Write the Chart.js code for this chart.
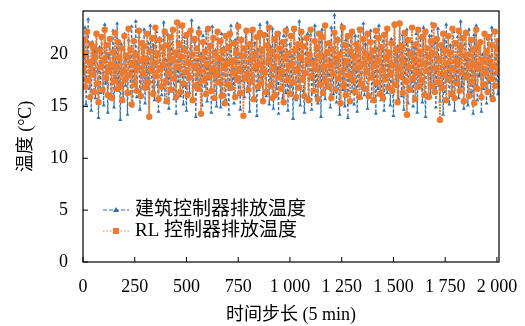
<!DOCTYPE html>
<html>
<head>
<meta charset="utf-8">
<script src="https://cdn.jsdelivr.net/npm/chart.js@4"></script>
<style>
  html, body { margin: 0; padding: 0; background: #fff; }
  #wrap { width: 525px; height: 326px; position: relative; }
</style>
</head>
<body>
<div id="wrap"><canvas id="myLineChart" width="525" height="326"></canvas></div>
<script>
// 时间步长 (每 5 步取一点)
var xStep = 5;
var xTickLabels = ["0", "250", "500", "750", "1 000", "1 250", "1 500", "1 750", "2 000"];
var yTickLabels = ["0", "5", "10", "15", "20"];
var seriesNames = ["建筑控制器排放温度", "RL 控制器排放温度"];

// 建筑控制器
var building = [
  20.8, 17.5, 22.6, 15.2, 19.4, 23.4, 16.7, 18.9, 14.6, 21.2, 17.9, 20.3, 15.8, 22.1, 18.4, 13.9, 20.7, 16.3, 21.8, 19.0,
  15.1, 22.9, 17.2, 20.1, 14.4, 19.8, 21.5, 16.0, 18.6, 22.3, 14.9, 20.4, 17.7, 23.0, 16.5, 19.3, 13.7, 21.0, 18.2, 15.5,
  22.0, 17.0, 19.6, 14.2, 21.4, 18.8, 16.2, 22.7, 15.0, 20.0, 17.6, 23.2, 15.9, 19.1, 21.7, 14.7, 18.0, 20.6, 16.8, 22.4,
  15.3, 19.7, 17.3, 21.1, 14.1, 22.8, 18.5, 16.4, 20.9, 15.6, 19.2, 22.2, 17.1, 14.5, 21.6, 18.7, 16.1, 20.2, 23.1, 15.4,
  19.5, 17.8, 21.9, 14.8, 20.5, 16.6, 22.5, 18.3, 15.7, 19.9, 14.3, 21.3, 17.4, 22.9, 16.0, 20.8, 18.1, 15.2, 21.7, 17.0,
  14.6, 22.1, 19.0, 16.3, 20.6, 23.3, 15.8, 18.9, 21.2, 14.0, 19.4, 17.2, 22.6, 16.7, 20.1, 15.1, 21.8, 18.4, 16.9, 22.3,
  15.5, 19.6, 17.6, 21.0, 14.4, 22.7, 18.2, 16.5, 20.4, 15.0, 21.5, 17.9, 19.3, 14.9, 22.0, 16.2, 20.7, 18.6, 15.6, 21.9,
  17.1, 14.2, 20.3, 22.8, 16.8, 19.1, 15.3, 21.4, 18.0, 23.0, 16.1, 20.0, 14.7, 21.6, 17.5, 19.8, 15.9, 22.4, 18.8, 16.4,
  20.9, 14.5, 19.5, 22.2, 17.3, 15.7, 21.1, 18.5, 14.1, 20.5, 16.6, 22.9, 17.8, 19.2, 15.4, 21.7, 18.3, 16.0, 23.1, 19.7,
  15.2, 20.8, 17.0, 22.5, 14.8, 19.0, 21.3, 16.7, 18.7, 14.3, 22.1, 17.7, 20.2, 15.8, 21.8, 18.1, 16.3, 22.6, 14.6, 19.4,
  21.0, 16.9, 19.9, 13.8, 22.3, 18.4, 15.6, 20.6, 17.4, 23.2, 15.1, 19.3, 21.5, 16.5, 14.4, 20.1, 18.9, 22.0, 15.9, 17.8,
  21.9, 14.7, 19.6, 17.2, 22.8, 16.0, 20.4, 15.3, 18.6, 21.2, 14.0, 22.4, 17.6, 19.8, 15.7, 21.1, 18.2, 16.8, 20.7, 14.9,
  22.6, 18.0, 16.2, 23.8, 19.1, 15.4, 21.6, 17.1, 14.2, 20.3, 22.9, 16.6, 19.5, 15.0, 21.4, 18.8, 13.9, 20.9, 17.5, 22.2,
  16.4, 19.7, 15.2, 21.8, 18.3, 14.5, 22.5, 17.0, 20.5, 15.8, 19.2, 23.0, 16.1, 21.0, 18.6, 14.8, 20.0, 17.7, 22.3, 15.5,
  19.9, 17.3, 21.7, 14.3, 20.6, 16.7, 22.8, 18.4, 15.6, 19.0, 21.3, 14.6, 17.9, 22.1, 16.3, 20.2, 18.9, 15.1, 21.5, 17.4,
  14.1, 22.7, 19.3, 16.9, 20.8, 15.7, 23.1, 18.1, 16.0, 21.9, 14.7, 19.6, 17.6, 22.4, 15.3, 20.4, 18.5, 16.5, 21.2, 15.0,
  20.7, 17.2, 22.0, 14.4, 19.4, 16.8, 21.6, 18.2, 15.4, 22.6, 17.8, 14.0, 20.1, 19.1, 16.2, 21.8, 15.9, 23.0, 18.7, 16.6,
  21.1, 14.9, 19.8, 22.5, 17.0, 15.5, 20.5, 18.3, 14.2, 21.4, 16.4, 22.9, 17.5, 19.2, 15.2, 20.9, 18.0, 16.1, 22.2, 14.6,
  19.7, 17.4, 21.7, 15.8, 20.3, 23.2, 16.9, 18.6, 14.8, 21.0, 17.7, 19.5, 15.1, 22.4, 18.9, 16.3, 20.6, 14.3, 21.9, 17.1,
  22.8, 15.6, 19.0, 17.9, 21.3, 14.5, 20.0, 16.7, 22.1, 18.4, 15.3, 21.5, 17.3, 19.8, 16.0, 22.6, 18.1, 15.7, 20.8, 17.6,
  21.4, 16.2, 19.3
];

// RL 控制器
var rl = [
  18.6, 21.4, 16.9, 20.1, 22.2, 17.5, 19.3, 15.9, 21.0, 18.1, 20.7, 16.4, 19.8, 22.0, 17.2, 15.4, 20.4, 18.8, 21.7, 16.6,
  19.5, 22.4, 17.8, 20.9, 16.1, 18.4, 21.5, 19.0, 15.8, 20.2, 17.4, 22.1, 18.9, 16.7, 21.2, 19.7, 17.0, 20.6, 15.6, 18.3,
  21.8, 17.6, 19.9, 16.3, 22.5, 18.0, 20.5, 15.2, 19.1, 21.3, 17.1, 20.0, 16.5, 18.7, 22.3, 19.4, 16.0, 21.1, 18.2, 20.8,
  16.8, 19.6, 22.0, 17.3, 14.0, 20.3, 18.5, 21.6, 16.2, 19.2, 22.6, 17.9, 20.1, 15.7, 21.4, 18.6, 16.9, 20.7, 19.0, 22.2,
  17.4, 15.5, 20.9, 18.1, 21.7, 16.6, 19.5, 22.4, 17.7, 20.2, 15.9, 23.1, 18.8, 21.0, 16.4, 19.8, 22.8, 17.2, 20.5, 18.3,
  21.9, 16.1, 19.3, 17.8, 22.3, 20.0, 15.6, 18.9, 21.5, 17.0, 20.6, 16.7, 22.1, 18.4, 14.3, 19.7, 21.2, 17.5, 20.3, 16.2,
  19.1, 22.5, 17.9, 20.8, 16.5, 18.6, 21.6, 15.8, 20.1, 18.0, 22.2, 17.3, 19.6, 21.3, 16.0, 20.4, 18.7, 15.3, 21.8, 19.2,
  17.1, 20.7, 22.0, 16.8, 19.4, 18.2, 21.1, 15.9, 20.2, 17.6, 22.7, 18.5, 16.3, 21.4, 19.9, 14.1, 20.6, 17.7, 22.3, 18.1,
  16.6, 21.0, 19.5, 17.4, 22.4, 15.7, 20.0, 18.8, 21.7, 16.9, 19.0, 22.1, 17.2, 20.5, 15.5, 21.9, 18.3, 16.4, 20.9, 19.3,
  22.6, 17.0, 20.3, 15.8, 18.7, 21.5, 16.1, 19.8, 22.0, 17.8, 20.6, 16.7, 18.4, 21.2, 15.4, 19.6, 22.3, 17.5, 20.1, 18.9,
  16.2, 21.8, 19.1, 17.3, 22.5, 20.4, 15.9, 18.5, 21.0, 16.8, 19.7, 22.2, 17.6, 20.8, 16.0, 18.2, 21.6, 19.4, 15.6, 20.0,
  22.4, 17.9, 19.2, 16.5, 21.3, 18.6, 20.7, 15.7, 22.0, 17.1, 19.9, 21.7, 16.3, 18.8, 22.8, 17.4, 20.2, 16.9, 21.1, 19.0,
  15.8, 20.5, 18.1, 22.1, 16.6, 19.5, 21.4, 17.7, 20.0, 15.3, 18.4, 22.6, 17.0, 20.9, 16.1, 19.3, 21.8, 18.0, 15.5, 20.3,
  22.2, 17.5, 19.8, 16.4, 21.0, 18.7, 20.6, 15.9, 22.4, 17.2, 19.1, 21.5, 16.7, 20.1, 18.3, 22.0, 16.0, 19.6, 21.2, 17.8,
  20.4, 15.6, 18.9, 22.3, 17.3, 19.4, 21.6, 16.2, 20.7, 18.5, 15.8, 21.9, 17.6, 19.7, 22.5, 16.8, 20.2, 18.1, 21.1, 16.5,
  19.0, 22.9, 17.1, 20.5, 15.4, 18.6, 23.0, 17.9, 20.8, 16.3, 19.3, 22.1, 17.4, 14.2, 21.4, 18.8, 16.6, 20.0, 22.6, 17.7,
  19.5, 15.7, 21.0, 18.2, 22.4, 16.9, 20.3, 17.5, 21.7, 19.1, 16.1, 22.2, 18.4, 20.6, 15.9, 19.8, 21.3, 17.0, 20.1, 22.8,
  16.4, 18.7, 21.5, 17.3, 19.6, 13.7, 20.9, 16.8, 22.0, 18.0, 20.4, 15.6, 19.2, 21.8, 17.6, 20.2, 16.2, 22.5, 18.5, 15.8,
  21.1, 19.4, 17.2, 22.3, 16.5, 20.7, 18.3, 21.6, 15.5, 19.9, 22.1, 17.8, 20.0, 16.0, 18.9, 21.4, 17.4, 20.5, 15.3, 19.0,
  22.4, 16.7, 20.8, 18.6, 21.2, 15.9, 19.5, 17.1, 22.0, 18.2, 20.3, 16.4, 21.7, 19.3, 17.7, 20.9, 15.7, 18.8, 22.2, 17.0,
  20.6, 18.4, 21.3
];

var blue = "#2f72b3";
var orange = "#ee7a30";
var serif = "'Liberation Serif', 'Noto Sans CJK SC', serif";

function toPoints(arr) {
  var pts = [];
  arr.forEach(function (v, i) {
    pts.push({ x: i * xStep, y: v });
  });
  return pts;
}

// 去掉刻度标签自动留白，固定绘图区
function noPad(scale) {
  scale.paddingTop = 0;
  scale.paddingBottom = 0;
  scale.paddingLeft = 0;
  scale.paddingRight = 0;
}

// 边框、内向刻度、图例
const framePlugin = {
  id: "frame",
  afterDraw: function (chart) {
    const ctx = chart.ctx;
    const a = chart.chartArea;
    const xs = chart.scales.x;
    const ys = chart.scales.y;
    ctx.save();
    ctx.strokeStyle = "#000";
    ctx.lineWidth = 1.2;
    ctx.strokeRect(a.left, a.top, a.right - a.left, a.bottom - a.top);
    ctx.lineWidth = 1;
    for (var i = 0; i < xTickLabels.length; i++) {
      var px = xs.getPixelForValue(i * 250);
      ctx.beginPath();
      ctx.moveTo(px, a.bottom);
      ctx.lineTo(px, a.bottom - 5);
      ctx.stroke();
    }
    for (var j = 0; j < yTickLabels.length; j++) {
      var py = ys.getPixelForValue(j * 5);
      ctx.beginPath();
      ctx.moveTo(a.left, py);
      ctx.lineTo(a.left + 5, py);
      ctx.stroke();
    }
    // 图例
    var lx = a.left + 20;
    var rows = [a.top + 199, a.top + 220];
    var styles = [
      { color: blue, dash: [4, 2], marker: "triangle" },
      { color: orange, dash: [1.5, 2], marker: "square" },
    ];
    for (var k = 0; k < 2; k++) {
      var y = rows[k];
      var s = styles[k];
      ctx.strokeStyle = s.color;
      ctx.fillStyle = s.color;
      ctx.lineWidth = 1.2;
      ctx.setLineDash(s.dash);
      ctx.beginPath();
      ctx.moveTo(lx, y);
      ctx.lineTo(lx + 26, y);
      ctx.stroke();
      ctx.setLineDash([]);
      var mx = lx + 13;
      if (s.marker === "triangle") {
        ctx.beginPath();
        ctx.moveTo(mx, y - 3);
        ctx.lineTo(mx + 3, y + 2);
        ctx.lineTo(mx - 3, y + 2);
        ctx.closePath();
        ctx.fill();
      } else {
        ctx.fillRect(mx - 3, y - 3, 6, 6);
      }
      ctx.fillStyle = "#000";
      ctx.font = "19px " + serif;
      ctx.textBaseline = "middle";
      ctx.textAlign = "left";
      ctx.fillText(seriesNames[k], lx + 32, y);
    }
    ctx.restore();
  },
};

const ctx = document.getElementById("myLineChart").getContext("2d");
const myChart = new Chart(ctx, {
  type: "line",
  data: {
    datasets: [
      {
        label: seriesNames[0],
        data: toPoints(building),
        order: 2,
        borderColor: blue,
        backgroundColor: blue,
        borderWidth: 1.2,
        borderDash: [3, 2],
        pointStyle: "triangle",
        pointRadius: 2.3,
        pointBorderWidth: 0,
        fill: false,
      },
      {
        label: seriesNames[1],
        data: toPoints(rl),
        order: 1,
        borderColor: orange,
        backgroundColor: orange,
        borderWidth: 1.6,
        borderDash: [2, 1],
        pointStyle: "circle",
        pointRadius: 3.2,
        pointBorderWidth: 0,
        fill: false,
      },
    ],
  },
  options: {
    responsive: false,
    animation: false,
    layout: { padding: { left: 0, right: 26, top: 11, bottom: 0 } },
    plugins: {
      legend: { display: false },
      tooltip: { enabled: false },
    },
    scales: {
      x: {
        type: "linear",
        min: 0,
        max: 2010,
        grid: { display: false, drawTicks: false },
        border: { display: false },
        afterFit: function (scale) { scale.height = 64; noPad(scale); },
        afterBuildTicks: function (scale) {
          scale.ticks = xTickLabels.map(function (t, i) { return { value: i * 250 }; });
        },
        ticks: {
          padding: 14,
          color: "#000",
          font: { family: serif, size: 18 },
          maxRotation: 0,
          autoSkip: false,
          callback: function (value) {
            return xTickLabels[Math.round(value / 250)];
          },
        },
        title: {
          display: true,
          text: "时间步长 (5 min)",
          color: "#000",
          font: { family: serif, size: 18 },
          padding: { top: 0, bottom: 0 },
        },
      },
      y: {
        min: 0,
        max: 24.2,
        grid: { display: false, drawTicks: false },
        border: { display: false },
        afterFit: function (scale) { scale.width = 83; noPad(scale); },
        afterBuildTicks: function (scale) {
          scale.ticks = yTickLabels.map(function (t, i) { return { value: i * 5 }; });
        },
        ticks: {
          padding: 15,
          color: "#000",
          font: { family: serif, size: 18 },
          callback: function (value) {
            return yTickLabels[Math.round(value / 5)];
          },
        },
        title: {
          display: true,
          text: "温度 (°C)",
          color: "#000",
          font: { family: serif, size: 18 },
          padding: { top: 15, bottom: 0 },
        },
      },
    },
  },
  plugins: [framePlugin],
});
</script>
</body>
</html>
